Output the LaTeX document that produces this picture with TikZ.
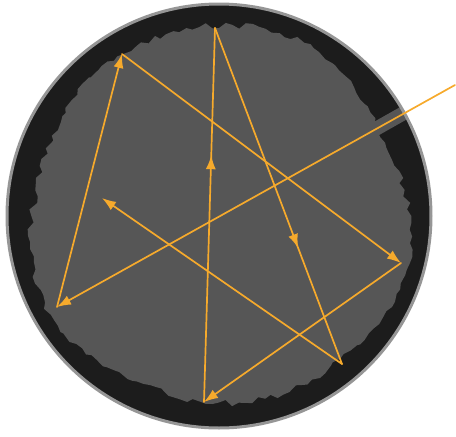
\documentclass[tikz,border=0pt]{standalone}
\usetikzlibrary{arrows.meta,decorations.markings}
\definecolor{arancio}{HTML}{F6AA2C}
\definecolor{fondo}{HTML}{565656}
\definecolor{anello}{HTML}{1C1C1C}
\definecolor{bordo}{HTML}{969696}
\begin{document}
\begin{tikzpicture}[x=1pt,y=-1pt,line join=round,line cap=round,
    raggio/.style={line width=1.7pt,arancio},
    punta/.style={-{Latex[length=14pt,width=10pt]}},
    meta/.style={postaction={decorate},decoration={markings,
        mark=at position #1 with {\arrow{Latex[length=14pt,width=10pt]}}}}]
  \useasboundingbox (0,0) rectangle (456,437);

  % disco esterno scuro con bordo grigio
  \fill[anello] (219,216) circle (212);

  % zona interna dal bordo frastagliato
  \pgfmathsetseed{11}
  \fill[fondo] plot[domain=0:358,samples=180,variable=\t]
      ({219+(189+4*sin(3*\t)+3*sin(5*\t+40)+3.5*rand)*cos(\t)},
       {216+(189+4*sin(3*\t)+3*sin(5*\t+40)+3.5*rand)*sin(\t)}) -- cycle;

  % canale d'ingresso del raggio
  \begin{scope}
    \clip (219,216) circle (211);
    \draw[fondo,line width=14pt,line cap=butt] (365,135) -- (425,101);
  \end{scope}
  \draw[bordo,line width=3pt] (219,216) circle (212);

  % punti di riflessione
  \coordinate (ingresso) at (455,85);
  \coordinate (p1) at (57,307);
  \coordinate (p2) at (122,54);
  \coordinate (p3) at (401,263);
  \coordinate (p4) at (204,402);
  \coordinate (p5) at (215,28);
  \coordinate (p6) at (342,364);
  \coordinate (fine) at (102,198);

  % cammino del raggio
  \draw[raggio,punta] (ingresso) -- (p1);
  \draw[raggio,punta] (p1) -- (p2);
  \draw[raggio,punta] (p2) -- (p3);
  \draw[raggio,punta] (p3) -- (p4);
  \draw[raggio,meta=0.66] (p4) -- (p5);
  \draw[raggio,meta=0.655] (p5) -- (p6);
  \draw[raggio,punta] (p6) -- (fine);

\end{tikzpicture}
\end{document}
